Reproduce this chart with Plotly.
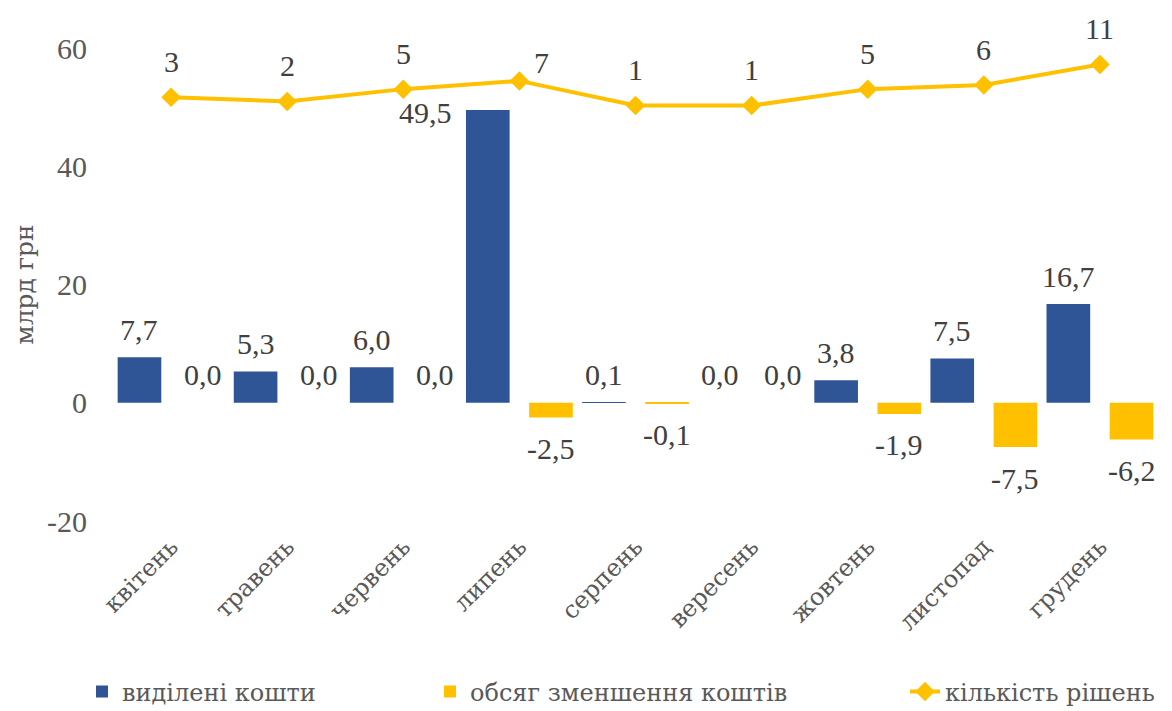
import plotly.graph_objects as go

months = ["квітень", "травень", "червень", "липень", "серпень",
          "вересень", "жовтень", "листопад", "грудень"]
allocated = [7.7, 5.3, 6.0, 49.5, 0.1, 0.0, 3.8, 7.5, 16.7]
reduced = [0.0, 0.0, 0.0, -2.5, -0.1, 0.0, -1.9, -7.5, -6.2]
decisions = [3, 2, 5, 7, 1, 1, 5, 6, 11]
y_ticks = [-20, 0, 20, 40, 60]
y_ticktext = ["-20", "0", "20", "40", "60"]

name_alloc = "виділені кошти"
name_red = "обсяг зменшення коштів"
name_dec = "кількість рішень"

BLUE = "#2F5597"
YELLOW = "#FFC000"
FONT = "Liberation Serif, DejaVu Serif, serif"   # digits
CYR = "DejaVu Serif, Liberation Serif, serif"    # Cyrillic text (serif with Cyrillic glyphs)
TICK_C = "#595959"
LABEL_C = "#404040"
AXIS_C = "#8C8C8C"

BAR_W = 0.376
OFF_BLUE = -0.46
OFF_YEL = 0.084

W, H = 1172, 711
L, T = 113, 48
PLOT_R = 1158
PLOT_B = 521

xs = list(range(len(months)))

def fmt(v):
    return f"{v:.1f}".replace(".", ",")

fig = go.Figure()
fig.add_trace(go.Bar(x=xs, y=allocated, name=name_alloc, width=BAR_W, offset=OFF_BLUE,
                     marker=dict(color=BLUE, line=dict(width=0)), legendwidth=303))
fig.add_trace(go.Bar(x=xs, y=reduced, name=name_red, width=BAR_W, offset=OFF_YEL,
                     marker=dict(color=YELLOW, line=dict(width=0)), legendwidth=430))
fig.add_trace(go.Scatter(x=xs, y=decisions, name=name_dec, yaxis="y2", mode="lines+markers",
                         line=dict(color=YELLOW, width=4),
                         marker=dict(symbol="diamond", size=15, color=YELLOW)))

ann = []
for series, off in ((allocated, OFF_BLUE), (reduced, OFF_YEL)):
    for i, v in enumerate(series):
        a = dict(x=i + off + BAR_W / 2, y=v, xref="x", yref="y", text=fmt(v),
                 showarrow=False, font=dict(family=FONT, size=30, color=LABEL_C),
                 yshift=28 if v >= 0 else -31)
        if series is allocated and v == max(allocated):
            # label moved beside the bar to keep clear of the line
            a.update(x=i + off, xanchor="right", xshift=-12, yshift=-2)
        ann.append(a)
for i, v in enumerate(decisions):
    a = dict(x=i, y=v, xref="x", yref="y2", text=str(v), showarrow=False,
             font=dict(family=FONT, size=30, color=LABEL_C), yshift=36)
    if i == 3:
        a.update(xshift=22, yshift=18)
    ann.append(a)

plot_w = PLOT_R - L
plot_h = PLOT_B - T
fig.update_layout(
    width=W, height=H,
    paper_bgcolor="white", plot_bgcolor="white",
    barmode="overlay",
    margin=dict(l=L, r=W - PLOT_R, t=T, b=H - PLOT_B, autoexpand=False),
    font=dict(family=FONT, size=30, color=TICK_C),
    xaxis=dict(range=[-0.5, len(months) - 0.5], tickmode="array", tickvals=xs, ticktext=months,
               tickangle=-45, showgrid=False, zeroline=False, showline=False, ticks="",
               tickfont=dict(family=CYR, size=24, color=TICK_C), ticklabelstandoff=6),
    xaxis2=dict(range=[-0.5, len(months) - 0.5], overlaying="x", anchor="free", position=0.25,
                side="bottom", tickmode="array",
                tickvals=[i - 0.5 for i in range(len(months) + 1)],
                showticklabels=False, ticks="outside", ticklen=8, tickwidth=2, tickcolor=AXIS_C,
                showline=True, linecolor=AXIS_C, linewidth=2, showgrid=False, zeroline=False),
    yaxis=dict(range=[-20, 60], tickmode="array", tickvals=y_ticks, ticktext=y_ticktext,
               showgrid=False, zeroline=False, showline=False, ticks="",
               tickfont=dict(family=FONT, size=30, color=TICK_C), ticklabelstandoff=25,
               title=dict(text="млрд грн", font=dict(family=CYR, size=25, color=TICK_C), standoff=6)),
    yaxis2=dict(range=[-100, 15], overlaying="y", side="right", visible=False, showgrid=False),
    legend=dict(orientation="h", xref="paper", yref="paper",
                x=(82 - L) / plot_w, y=-(692 - PLOT_B) / plot_h,
                xanchor="left", yanchor="middle",
                font=dict(family=CYR, size=24, color=TICK_C), traceorder="normal",
                itemclick=False, bgcolor="rgba(0,0,0,0)"),
    annotations=ann,
    showlegend=True,
)

fig.write_html("out.html", config={"displayModeBar": False},
               post_script="document.body.style.margin='0';")
